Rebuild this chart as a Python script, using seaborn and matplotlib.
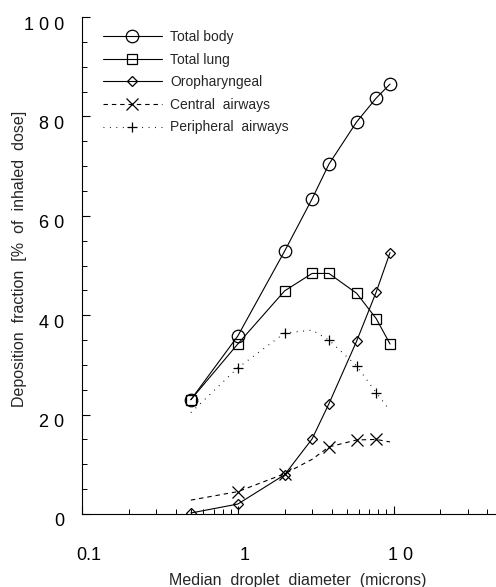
import numpy as np
import pandas as pd
import matplotlib
matplotlib.use("Agg")
import matplotlib.pyplot as plt
import matplotlib.transforms as mtransforms
from matplotlib.ticker import FixedLocator, LogLocator, NullFormatter
import seaborn as sns

# ---- data ----
diameters = [0.5, 1.0, 2.0, 3.0, 3.85, 5.8, 7.75, 9.5]
total_body = [23.0, 35.8, 52.9, 63.4, 70.4, 78.9, 83.7, 86.5]
total_lung = [23.0, 34.2, 44.9, 48.4, 48.4, 44.4, 39.3, 34.2]
oropharyngeal = [0.2, 2.0, 7.9, 15.1, 22.2, 34.8, 44.7, 52.6]
central_airways = [2.8, 4.5, 8.1, 11.0, 13.5, 14.9, 15.0, 14.5]
peripheral_airways = [20.4, 29.4, 36.4, 37.0, 35.0, 29.8, 24.4, 20.8]

series_names = ["Total body", "Total lung", "Oropharyngeal",
                "Central  airways", "Peripheral  airways"]
y_ticks = [0, 20, 40, 60, 80, 100]
y_tick_labels = ["0", "2 0", "4 0", "6 0", "8 0", "1 0 0"]
x_ticks = [0.1, 1, 10]
x_tick_labels = ["0.1", "1", "1 0"]
x_label = "Median  droplet  diameter  (microns)"
y_label = "Deposition  fraction  [%  of  inhaled  dose]"

sns.set_style("ticks")
plt.rcParams["font.family"] = ["Liberation Sans", "DejaVu Sans"]

fig = plt.figure(figsize=(4.96, 5.87), dpi=100)
ax = fig.add_axes([82 / 496, (587 - 514) / 587, (496 - 82) / 496, 497 / 587])

lw = 0.8
styles = [
    dict(marker="o", ms=9, ls="-", markevery=None),
    dict(marker="s", ms=7.5, ls="-", markevery=None),
    dict(marker="D", ms=5.5, ls="-", markevery=None),
    dict(marker="x", ms=8, ls=(0, (4, 3.5)), markevery=[1, 2, 4, 5, 6]),
    dict(marker="+", ms=7, ls=(0, (0.8, 5)), markevery=[1, 2, 4, 5, 6]),
]
values = [total_body, total_lung, oropharyngeal, central_airways, peripheral_airways]

for name, vals, st in zip(series_names, values, styles):
    df = pd.DataFrame({"d": diameters, "v": vals})
    kw = dict(marker=st["marker"], markersize=st["ms"], linestyle=st["ls"],
              color="black", linewidth=lw, markerfacecolor="none",
              markeredgecolor="black", markeredgewidth=0.9)
    if st["markevery"] is not None:
        kw["markevery"] = st["markevery"]
    sns.lineplot(data=df, x="d", y="v", ax=ax, label=name, sort=False, **kw)

ax.set_xscale("log")
ax.set_xlim(0.1, 45.5)
ax.set_ylim(0, 100)

ax.xaxis.set_major_locator(FixedLocator(x_ticks))
ax.set_xticklabels(x_tick_labels)
ax.xaxis.set_minor_locator(LogLocator(base=10, subs=np.arange(2, 10)))
ax.xaxis.set_minor_formatter(NullFormatter())
ax.set_yticks(y_ticks)
ax.set_yticklabels(y_tick_labels)
ax.yaxis.set_minor_locator(FixedLocator(np.arange(0, 101, 5)))

ax.tick_params(axis="both", which="major", direction="in", length=6, width=0.8,
               color="black", labelsize=13, labelcolor="black")
ax.tick_params(axis="both", which="minor", direction="in", length=3.5, width=0.7,
               color="black")
ax.tick_params(axis="x", which="major", pad=24)
ax.tick_params(axis="y", which="major", pad=13)

# small offsets like the scanned original
for lab in ax.get_yticklabels():
    lab.set_transform(lab.get_transform() + mtransforms.ScaledTranslation(0, -0.06, fig.dpi_scale_trans))
for lab in ax.get_xticklabels():
    lab.set_transform(lab.get_transform() + mtransforms.ScaledTranslation(0.07, 0, fig.dpi_scale_trans))

for s in ["top", "right"]:
    ax.spines[s].set_visible(False)
for s in ["left", "bottom"]:
    ax.spines[s].set_linewidth(0.8)
    ax.spines[s].set_color("black")

ax.set_xlabel(x_label, fontsize=11.5)
ax.set_ylabel(y_label, fontsize=11.5)
ax.xaxis.set_label_coords(0.522, -0.133)
ax.xaxis.label.set_va("center")
ax.yaxis.set_label_coords(-0.152, 0.513)
ax.yaxis.label.set_va("center")

leg = ax.legend(loc="upper left", bbox_to_anchor=(0.037, 0.985), frameon=False,
                fontsize=10, handlelength=4.25, handletextpad=0.58,
                labelspacing=0.62, borderaxespad=0)

fig.savefig("out.png", dpi=100, facecolor="white")
